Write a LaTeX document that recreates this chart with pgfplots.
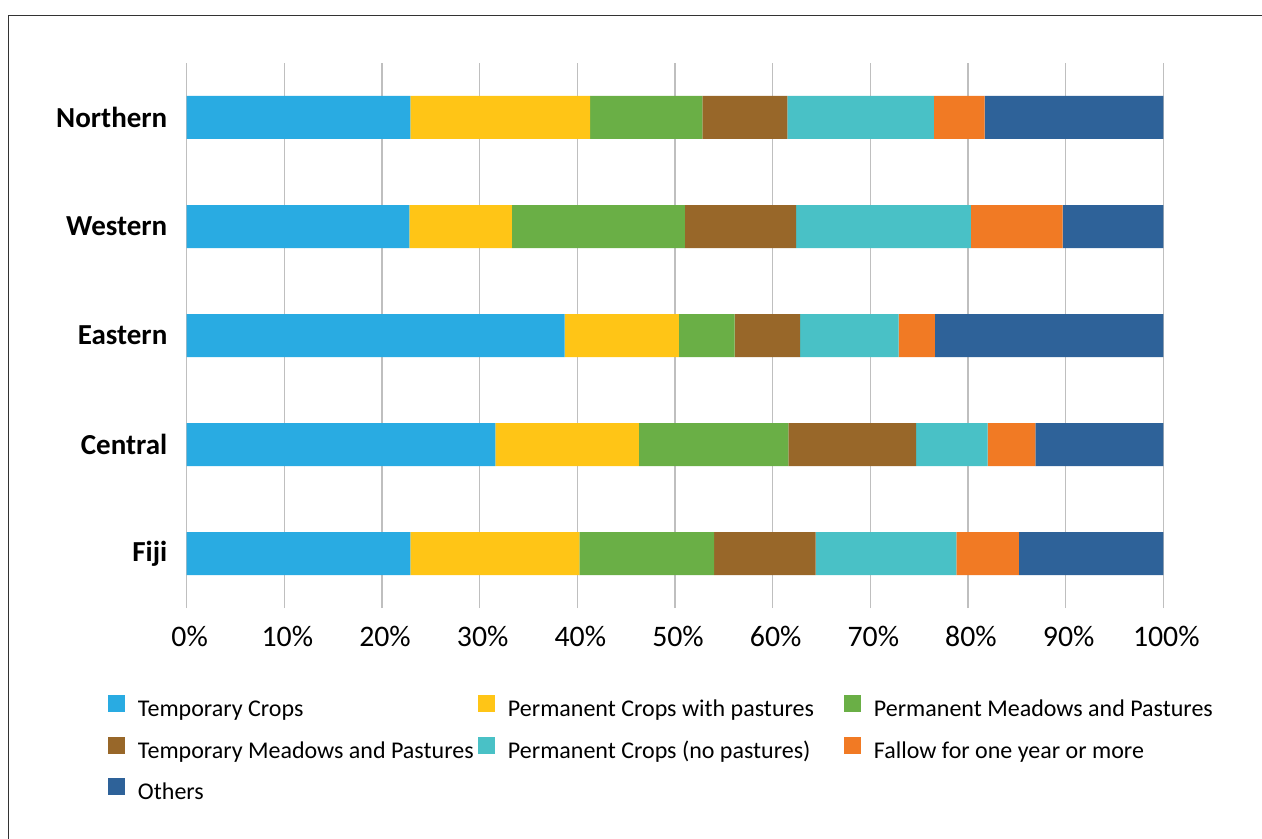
\documentclass[border=0pt]{standalone}
\usepackage{fontspec}
\setmainfont{Carlito}
\usepackage{pgfplots}
\pgfplotsset{compat=1.18}
\definecolor{cTC}{HTML}{29ABE2}
\definecolor{cPCP}{HTML}{FFC516}
\definecolor{cPMP}{HTML}{6AAF46}
\definecolor{cTMP}{HTML}{986729}
\definecolor{cPCN}{HTML}{49C1C6}
\definecolor{cFAL}{HTML}{F17A24}
\definecolor{cOTH}{HTML}{2E6299}
\newcommand{\lstrut}{\rule[-6pt]{0pt}{20.75pt}}
\begin{document}
\begin{tikzpicture}
\useasboundingbox (0,0) rectangle (631pt,-419.5pt);
\draw[line width=0.75pt, black!80] (4.25pt,-420pt) -- (4.25pt,-7.75pt) -- (632pt,-7.75pt);
\begin{axis}[
  at={(93.35pt,-304pt)}, anchor=south west,
  scale only axis, width=488.3pt, height=272.5pt,
  xbar stacked, bar width=21.5pt,
  xmin=0, xmax=100, ymin=0.5, ymax=5.5,
  xtick={0,10,...,100},
  xticklabels={0\%,10\%,20\%,30\%,40\%,50\%,60\%,70\%,80\%,90\%,100\%},
  ytick={1,2,3,4,5},
  yticklabels={Fiji,Central,Eastern,Western,Northern},
  axis line style={draw=none},
  major tick length=0pt,
  xmajorgrids, grid style={line width=0.6pt, color=black!25},
  tick label style={font=\fontsize{14.9pt}{17pt}\selectfont, inner sep=0pt},
  yticklabel style={font=\fontsize{14.5pt}{17pt}\selectfont\bfseries, anchor=east, xshift=-9.5pt},
  xticklabel style={anchor=center, yshift=-14.35pt, xshift=1.5pt},
  legend columns=3,
  legend cell align=left,
  legend image code/.code={\fill[#1] (0pt,-4.25pt) rectangle (8.5pt,4.25pt); \path (15pt,0pt);},
  legend style={draw=none, fill=none, inner sep=0pt, outer sep=0pt, column sep=0pt, row sep=4.5pt,
    nodes={inner sep=0pt, outer sep=0pt},
    font=\fontsize{12pt}{14pt}\selectfont,
    at={(axis description cs:-0.0806,-0.1457)}, anchor=north west},
]
\addplot[fill=cTC, draw=none] coordinates {(22.9,1) (31.6,2) (38.7,3) (22.8,4) (22.9,5)};
\addlegendentry{\makebox[170pt][l]{\lstrut Temporary Crops}}
\addplot[fill=cPCP, draw=none] coordinates {(17.3,1) (14.7,2) (11.7,3) (10.5,4) (18.4,5)};
\addlegendentry{\makebox[168pt][l]{\lstrut Permanent Crops with pastures}}
\addplot[fill=cPMP, draw=none] coordinates {(13.8,1) (15.3,2) (5.7,3) (17.7,4) (11.5,5)};
\addlegendentry{\makebox[168pt][l]{\lstrut Permanent Meadows and Pastures}}
\addplot[fill=cTMP, draw=none] coordinates {(10.4,1) (13.1,2) (6.7,3) (11.4,4) (8.7,5)};
\addlegendentry{\makebox[170pt][l]{\lstrut Temporary Meadows and Pastures}}
\addplot[fill=cPCN, draw=none] coordinates {(14.4,1) (7.3,2) (10.1,3) (17.9,4) (15.0,5)};
\addlegendentry{\makebox[168pt][l]{\lstrut Permanent Crops (no pastures)}}
\addplot[fill=cFAL, draw=none] coordinates {(6.4,1) (4.9,2) (3.7,3) (9.4,4) (5.2,5)};
\addlegendentry{\makebox[168pt][l]{\lstrut Fallow for one year or more}}
\addplot[fill=cOTH, draw=none] coordinates {(14.8,1) (13.1,2) (23.4,3) (10.3,4) (18.3,5)};
\addlegendentry{\makebox[170pt][l]{\lstrut Others}}
\end{axis}
\end{tikzpicture}
\end{document}
